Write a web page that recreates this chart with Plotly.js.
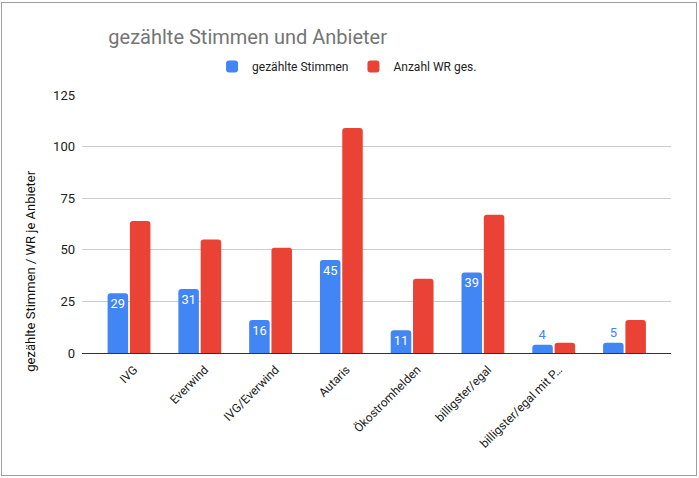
<!DOCTYPE html>
<html>
<head>
<meta charset="utf-8">
<script src="https://cdn.plot.ly/plotly-3.0.1.min.js"></script>
<style>
  body { margin: 0; background: #fff; }
  #frame { position: absolute; left: 1px; top: 2px; width: 694px; height: 472px; border: 1px solid #9e9e9e; pointer-events: none; }
  #myDiv { position: absolute; left: 0; top: 0; width: 699px; height: 478px; }
</style>
</head>
<body>
<div id="myDiv"></div>
<div id="frame"></div>
<script>
  var anbieter = ["IVG", "Everwind", "IVG/Everwind", "Autaris", "Ökostromhelden", "billigster/egal", "billigster/egal mit P…", "sonstige"];
  var stimmen = [29, 31, 16, 45, 11, 39, 4, 5];
  var wrGes = [64, 55, 51, 109, 36, 67, 5, 16];
  var yTicks = [0, 25, 50, 75, 100, 125];
  // the last category has no visible label in the original
  var shownLabels = anbieter.slice(0, 7);

  var fontFam = "Roboto, Arial, sans-serif";

  var data = [
    {
      type: "bar",
      name: "gezählte Stimmen",
      x: anbieter,
      y: stimmen,
      text: stimmen.map(String),
      textposition: "auto",
      insidetextanchor: "end",
      textangle: 0,
      insidetextfont: { color: "#ffffff", size: 13, family: fontFam },
      outsidetextfont: { color: "#4285f4", size: 13, family: fontFam },
      marker: { color: "#4285f4", cornerradius: 3 },
      hoverinfo: "x+y"
    },
    {
      type: "bar",
      name: "Anzahl WR ges.",
      x: anbieter,
      y: wrGes,
      marker: { color: "#ea4335", cornerradius: 3 },
      hoverinfo: "x+y"
    }
  ];

  var layout = {
    width: 699,
    height: 478,
    margin: { l: 82, r: 28, t: 95, b: 125 },
    paper_bgcolor: "#ffffff",
    plot_bgcolor: "#ffffff",
    font: { family: fontFam, color: "#222222", size: 12 },
    title: {
      text: "gezählte Stimmen und Anbieter",
      font: { size: 20, color: "#757575", family: fontFam },
      xref: "container", x: 0.155, xanchor: "left",
      yref: "container", y: 0.923, yanchor: "middle"
    },
    barmode: "group",
    bargap: 0.37,
    bargroupgap: 0.08,
    showlegend: true,
    legend: {
      orientation: "h",
      x: 0.45, xanchor: "center",
      y: 1.11, yanchor: "middle",
      font: { size: 12, color: "#222222" },
      itemwidth: 30
    },
    xaxis: {
      type: "category",
      range: [-0.664, 7.657],
      tickangle: -45,
      tickmode: "array",
      tickvals: shownLabels,
      ticktext: shownLabels,
      ticklabelshift: 5,
      ticklabelstandoff: 4,
      showgrid: false,
      showline: true,
      linecolor: "#333333",
      linewidth: 1,
      ticks: "",
      tickfont: { size: 12, color: "#222222" }
    },
    yaxis: {
      range: [0, 125],
      tickmode: "array",
      tickvals: yTicks,
      gridcolor: "#cccccc",
      zeroline: true,
      zerolinecolor: "#333333",
      ticks: "",
      ticklabelstandoff: 6,
      tickfont: { size: 13, color: "#222222" }
    },
    annotations: [
      {
        text: "gezählte Stimmen / WR je Anbieter",
        xref: "paper", yref: "paper",
        x: -0.087, y: 0.318,
        xanchor: "center", yanchor: "middle",
        textangle: -90,
        showarrow: false,
        font: { size: 13, color: "#111111", family: fontFam }
      }
    ]
  };

  Plotly.newPlot("myDiv", data, layout, { displayModeBar: false, staticPlot: true });
</script>
</body>
</html>
